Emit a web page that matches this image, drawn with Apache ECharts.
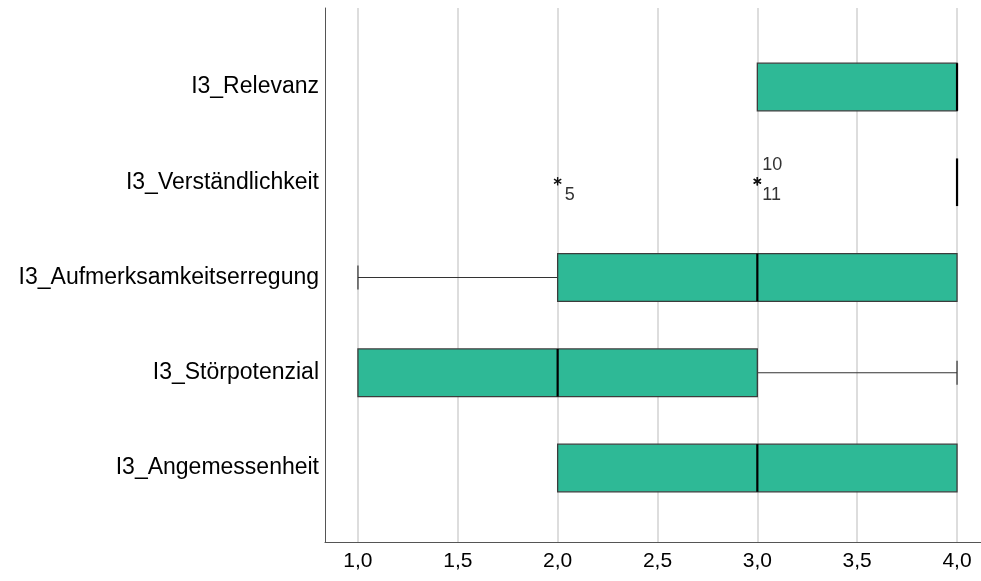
<!DOCTYPE html>
<html>
<head>
<meta charset="utf-8">
<script src="https://cdn.jsdelivr.net/npm/echarts@6/dist/echarts.min.js"></script>
<style>
  html, body { margin: 0; padding: 0; background: #fff; }
  #chart { width: 981px; height: 581px; }
</style>
</head>
<body>
<div id="chart"></div>
<script>
// Item names, top to bottom
const categories = [
  'I3_Relevanz',
  'I3_Verständlichkeit',
  'I3_Aufmerksamkeitserregung',
  'I3_Störpotenzial',
  'I3_Angemessenheit'
];
// Five-number summaries per item: minimum, Q1, median, Q3, maximum
const minima  = [3, 4, 1, 1, 2];
const q1s     = [3, 4, 2, 1, 2];
const medians = [4, 4, 3, 2, 3];
const q3s     = [4, 4, 4, 3, 4];
const maxima  = [4, 4, 4, 4, 4];
// Extreme values: item index, value, case number, label side
const outlierItem  = [1, 1, 1];
const outlierValue = [2, 3, 3];
const outlierCase  = ['5', '10', '11'];
const outlierSide  = ['below', 'above', 'below'];
// Value-axis ticks
const xTicks = [1.0, 1.5, 2.0, 2.5, 3.0, 3.5, 4.0];

const FONT = '"Liberation Sans", Arial, sans-serif';
const BOX_FILL = '#2eb996';
const EDGE = '#3c3c3c';
const BOX_FRACTION = 0.5;   // box height as a share of the row spacing

const boxData = categories.map((c, i) => [i + 1, minima[i], q1s[i], medians[i], q3s[i], maxima[i]]);
const outlierData = outlierItem.map((c, i) => [outlierValue[i], c + 1, outlierCase[i], outlierSide[i]]);

function renderBox(params, api) {
  const row = api.value(0);
  const vMin = api.value(1), vQ1 = api.value(2), vMed = api.value(3), vQ3 = api.value(4), vMax = api.value(5);
  const yc = api.coord([vMed, row])[1];
  const h = api.size([0, 1])[1] * BOX_FRACTION;
  const x = v => api.coord([v, row])[0];
  const children = [];
  const whisker = { stroke: '#333', lineWidth: 1.2 };
  // whiskers and end caps
  if (vMin < vQ1) {
    children.push({ type: 'line', shape: { x1: x(vMin), y1: yc, x2: x(vQ1), y2: yc }, style: whisker });
    children.push({ type: 'line', shape: { x1: x(vMin), y1: yc - h / 4, x2: x(vMin), y2: yc + h / 4 }, style: whisker });
  }
  if (vMax > vQ3) {
    children.push({ type: 'line', shape: { x1: x(vQ3), y1: yc, x2: x(vMax), y2: yc }, style: whisker });
    children.push({ type: 'line', shape: { x1: x(vMax), y1: yc - h / 4, x2: x(vMax), y2: yc + h / 4 }, style: whisker });
  }
  // box
  if (vQ3 > vQ1) {
    children.push({
      type: 'rect',
      shape: { x: x(vQ1), y: yc - h / 2, width: x(vQ3) - x(vQ1), height: h },
      style: { fill: BOX_FILL, stroke: EDGE, lineWidth: 1.3 }
    });
  }
  // median
  children.push({ type: 'line', shape: { x1: x(vMed), y1: yc - h / 2, x2: x(vMed), y2: yc + h / 2 }, style: { stroke: '#000', lineWidth: 2.2 } });
  return { type: 'group', children };
}

function renderOutlier(params, api) {
  const p = api.coord([api.value(0), api.value(1)]);
  const label = outlierData[params.dataIndex][2];
  const side = outlierData[params.dataIndex][3];
  const r = 4.2;
  const children = [];
  for (let k = 0; k < 3; k++) {
    const a = Math.PI / 2 + k * Math.PI / 3;
    children.push({
      type: 'line',
      shape: { x1: p[0] - r * Math.cos(a), y1: p[1] - 1 - r * Math.sin(a), x2: p[0] + r * Math.cos(a), y2: p[1] - 1 + r * Math.sin(a) },
      style: { stroke: '#111', lineWidth: 1.4 }
    });
  }
  children.push({
    type: 'text',
    x: p[0] + (label.length === 1 ? 7 : 5),
    y: side === 'above' ? p[1] - 17 : p[1] + 13,
    style: {
      text: label, fill: '#333', font: '18px ' + FONT,
      textAlign: 'left', textVerticalAlign: 'middle'
    }
  });
  return { type: 'group', children };
}

const chart = echarts.init(document.getElementById('chart'), null, { renderer: 'canvas' });
chart.setOption({
  animation: false,
  backgroundColor: '#fff',
  grid: { left: 325, right: 0, top: 8, bottom: 39, containLabel: false },
  xAxis: {
    type: 'value',
    min: 0.835,
    max: 4.12,
    axisLine: { show: true, onZero: false, lineStyle: { color: '#555', width: 1 } },
    axisTick: { show: false, customValues: xTicks },
    axisLabel: {
      customValues: xTicks,
      margin: 9,
      color: '#000',
      fontSize: 21,
      fontFamily: FONT,
      formatter: v => v.toFixed(1).replace('.', ',')
    },
    splitLine: { show: true, lineStyle: { color: '#d2d2d2', width: 1.5 } }
  },
  yAxis: {
    type: 'value',
    inverse: true,
    min: 0.1706,
    max: 5.777,
    axisLine: { show: true, onZero: false, lineStyle: { color: '#555', width: 1 } },
    axisTick: { show: false, customValues: [1, 2, 3, 4, 5] },
    axisLabel: {
      customValues: [1, 2, 3, 4, 5],
      margin: 6,
      color: '#000',
      fontSize: 23,
      fontFamily: FONT,
      padding: [3, 0, 0, 0],
      formatter: v => categories[Math.round(v) - 1] || ''
    },
    splitLine: { show: false }
  },
  series: [
    {
      type: 'custom',
      name: 'Boxplot',
      renderItem: renderBox,
      encode: { x: [1, 2, 3, 4, 5], y: 0 },
      data: boxData,
      z: 3
    },
    {
      type: 'custom',
      name: 'Extremwerte',
      renderItem: renderOutlier,
      encode: { x: 0, y: 1 },
      data: outlierData.map(d => [d[0], d[1]]),
      z: 4
    }
  ]
});
</script>
</body>
</html>
